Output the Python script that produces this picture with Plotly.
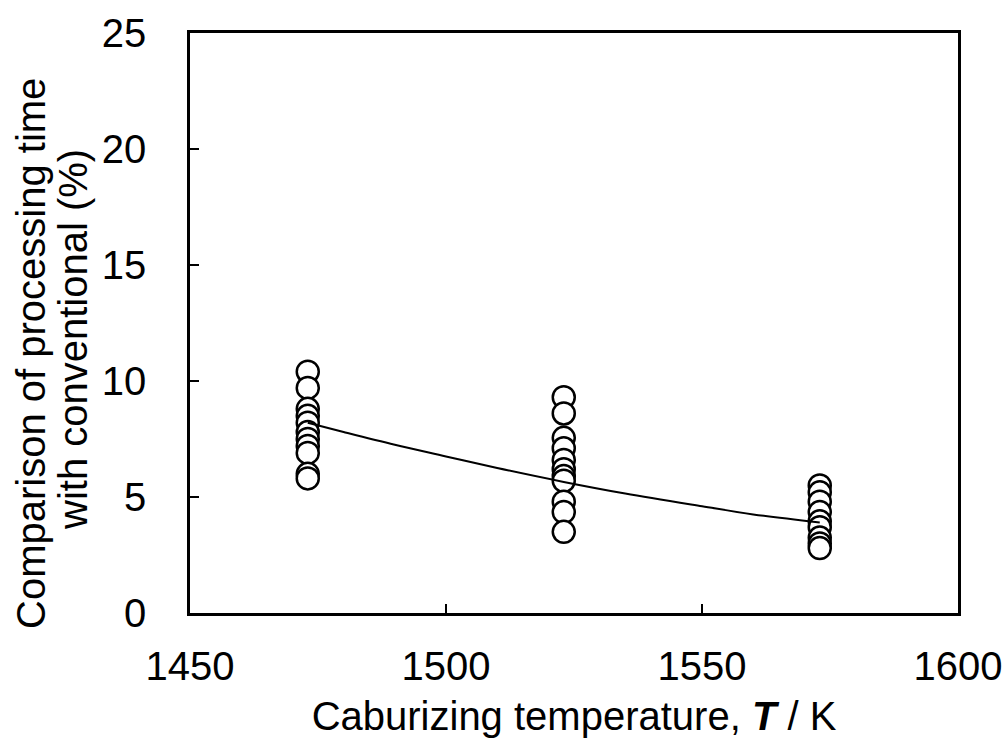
import plotly.graph_objects as go

# Data
temp_1473 = [1473] * 11
vals_1473 = [10.4, 9.7, 8.8, 8.5, 8.2, 7.8, 7.5, 7.2, 6.9, 6.0, 5.8]
temp_1523 = [1523] * 11
vals_1523 = [9.3, 8.6, 7.55, 7.1, 6.6, 6.2, 5.9, 5.7, 4.8, 4.35, 3.5]
temp_1573 = [1573] * 9
vals_1573 = [5.5, 5.2, 4.8, 4.35, 3.95, 3.7, 3.25, 3.0, 2.8]

fit_T = [1473, 1480, 1490, 1500, 1510, 1523, 1535, 1550, 1560, 1573]
fit_v = [8.2, 7.8, 7.25, 6.75, 6.25, 5.65, 5.15, 4.6, 4.25, 3.9]

x_ticks = [1450, 1500, 1550, 1600]
y_ticks = [0, 5, 10, 15, 20, 25]

FONT = "Liberation Sans, Arial, sans-serif"

fig = go.Figure()
marker = dict(symbol="circle", size=22, color="white",
              line=dict(color="black", width=2.5))
for xs, ys in [(temp_1473, vals_1473), (temp_1523, vals_1523), (temp_1573, vals_1573)]:
    fig.add_trace(go.Scatter(x=xs, y=ys, mode="markers", marker=marker,
                             showlegend=False, hoverinfo="skip"))
fig.add_trace(go.Scatter(x=fit_T, y=fit_v, mode="lines", line=dict(color="black", width=2),
                         line_shape="spline", showlegend=False))

L, R, T, B = 190, 958, 33, 613
W, H = 1005, 738

fig.update_layout(
    width=W, height=H,
    margin=dict(l=L, r=W - R, t=T, b=H - B, pad=0, autoexpand=False),
    paper_bgcolor="white", plot_bgcolor="white",
    font=dict(family=FONT, color="black"),
    xaxis=dict(range=[1450, 1600], tickvals=x_ticks, ticks="inside", ticklen=9,
               tickwidth=2, tickcolor="black", showline=True, linecolor="black",
               linewidth=2.5, mirror=True, showgrid=False, zeroline=False,
               automargin=False,
               tickfont=dict(size=40, family=FONT), ticklabelstandoff=16,
               title=dict(text="Caburizing temperature, <b><i>T</i></b> / K",
                          font=dict(size=40, family=FONT), standoff=16)),
    yaxis=dict(range=[0, 25], tickvals=y_ticks, ticks="inside", ticklen=9,
               tickwidth=2, tickcolor="black", showline=True, linecolor="black",
               linewidth=2.5, mirror=True, showgrid=False, zeroline=False,
               automargin=False,
               tickfont=dict(size=40, family=FONT), ticklabelstandoff=33),
)

pw = R - L
ph = B - T
for text, xpx, ypx in [("Comparison of processing time", 31, 354),
                        ("with conventional (%)", 73, 340)]:
    fig.add_annotation(text=text, textangle=-90, showarrow=False,
                       xref="paper", yref="paper",
                       x=(xpx - L) / pw, y=(B - ypx) / ph,
                       xanchor="center", yanchor="middle",
                       font=dict(size=40, family=FONT, color="black"))

fig.write_html("out.html")
